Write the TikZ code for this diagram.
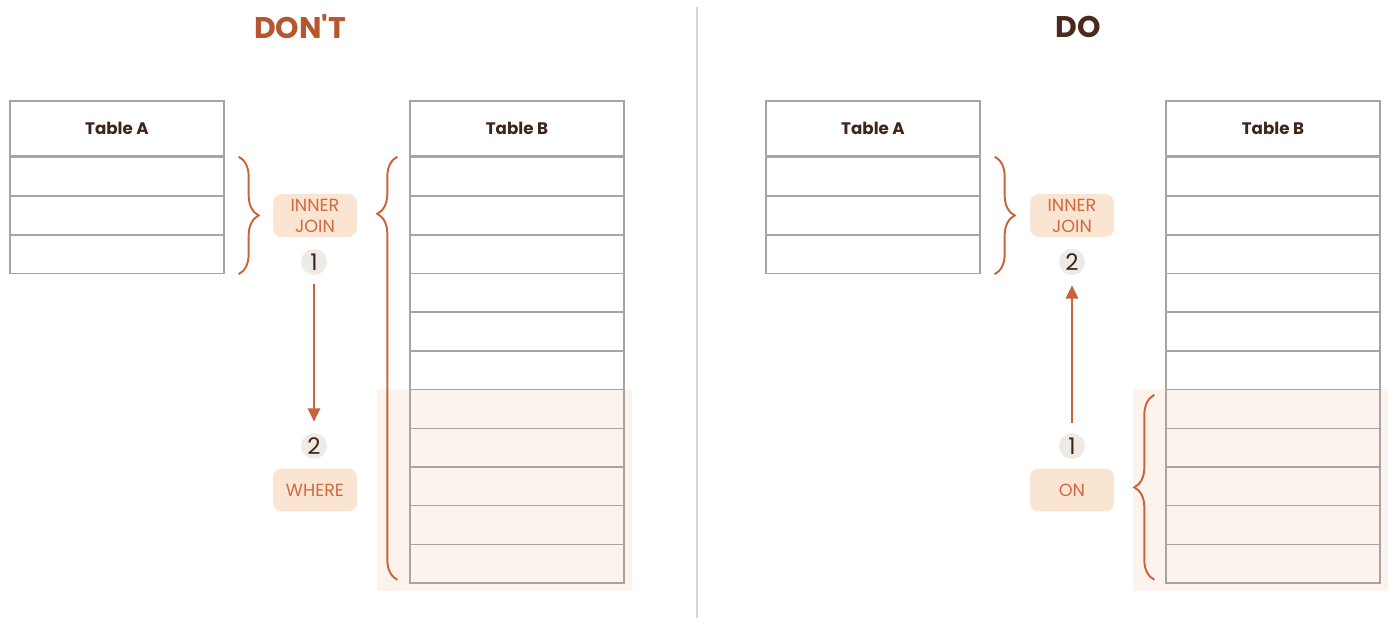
\documentclass[tikz,border=0pt]{standalone}
\usepackage{fontspec}
\setmainfont{Poppins}
\usetikzlibrary{positioning, arrows.meta, calc, decorations.pathreplacing}

\definecolor{rust}{HTML}{C8643C}
\definecolor{tagtext}{HTML}{D06A40}
\definecolor{peach}{HTML}{FAE4D2}
\definecolor{blush}{HTML}{FCF4EC}
\definecolor{stone}{HTML}{EEEAE6}
\definecolor{gridgray}{HTML}{A8A4A2}
\definecolor{ink}{HTML}{3E2419}
\definecolor{dontcol}{HTML}{B5562D}
\definecolor{docol}{HTML}{4A2A1C}
\definecolor{divider}{HTML}{D6D4D2}

\begin{document}
\begin{tikzpicture}[
    x=0.02cm, y=-0.02cm,
    >=Stealth,
    % --- Styles ---
    head/.style={draw=gridgray, line width=0.8pt, fill=white, minimum width=4.28cm, minimum height=1.1cm, inner sep=0pt, text=ink, font=\bfseries\fontsize{9.5}{11}\selectfont},
    row/.style={draw=gridgray, line width=0.8pt, minimum width=4.28cm, minimum height=0.774cm, inner sep=0pt, anchor=north},
    tag/.style={fill=peach, rounded corners=5pt, minimum width=1.68cm, minimum height=0.86cm, inner sep=1pt, align=center, text=tagtext, font=\fontsize{10}{12}\selectfont},
    badge/.style={circle, fill=stone, minimum size=0.52cm, inner sep=0pt, text=ink, font=\fontsize{13}{14}\selectfont},
    flow/.style={draw=rust, line width=1.2pt, -{Triangle[length=7.5pt, width=7pt]}},
    curly/.style={decorate, decoration={brace, amplitude=0.4cm, aspect=#1}, draw=rust, line width=1.1pt},
    curly/.default=0.5,
    title/.style={font=\bfseries\fontsize{17}{20}\selectfont},
]
    \useasboundingbox (0,0) rectangle (1400,638);

    % ==========================
    % 1. DON'T (Left)
    % ==========================
    \node[title, text=dontcol] (dont) at (300,27) {DON\textquotesingle T};

    % filtered rows of Table B
    \fill[blush] (377,389) rectangle (632,591);

    \node[head] (lA) at (117,128.5) {Table A};
    \foreach \i in {1,...,3}
        \node[row] (lA\i) at ($(lA.south)+(0,{(\i-1)*38.7})$) {};

    \node[head, fill=none] (lB) at (517,128.5) {Table B};
    \foreach \i in {1,...,11}
        \node[row] (lB\i) at ($(lB.south)+(0,{(\i-1)*38.7})$) {};

    % braces
    \draw[curly] ($(lA1.north east)+(14,0)$) -- ($(lA3.south east)+(14,0)$);
    \draw[curly=0.865] ($(lB11.south west)+(-12,-4)$) -- ($(lB1.north west)+(-12,0)$);

    \node[tag] (ljoin) at (315,215.5) {INNER\\JOIN};
    \node[badge] (l1) at (314,262) {1};
    \node[badge] (l2) at (314,446) {2};
    \node[tag] (lwhere) at (315,490) {WHERE};

    \draw[flow, shorten <=0.18cm, shorten >=0.22cm] (l1) -- (l2);

    % divider
    \coordinate (dtop) at (697,7);
    \coordinate (dbot) at (697,618);
    \draw[divider, line width=1.1pt] (dtop) -- (dbot);

    % ==========================
    % 2. DO (Right)
    % ==========================
    \node[title, text=docol] (do) at (1078,27) {DO};

    % filtered rows of Table B
    \fill[blush] (1133,389) rectangle (1388,591);

    \node[head] (rA) at (873,128.5) {Table A};
    \foreach \i in {1,...,3}
        \node[row] (rA\i) at ($(rA.south)+(0,{(\i-1)*38.7})$) {};

    \node[head, fill=none] (rB) at (1273,128.5) {Table B};
    \foreach \i in {1,...,11}
        \node[row] (rB\i) at ($(rB.south)+(0,{(\i-1)*38.7})$) {};

    % braces
    \draw[curly] ($(rA1.north east)+(14,0)$) -- ($(rA3.south east)+(14,0)$);
    \draw[curly] ($(rB11.south west)+(-11,-4)$) -- ($(rB7.north west)+(-11,6)$);

    \node[tag] (rjoin) at (1072,215.5) {INNER\\JOIN};
    \node[badge] (r2) at (1072,262) {2};
    \node[badge] (r1) at (1072,446) {1};
    \node[tag] (ron) at (1072,490) {ON};

    \draw[flow, shorten <=0.2cm, shorten >=0.2cm] (r1) -- (r2);

\end{tikzpicture}
\end{document}
